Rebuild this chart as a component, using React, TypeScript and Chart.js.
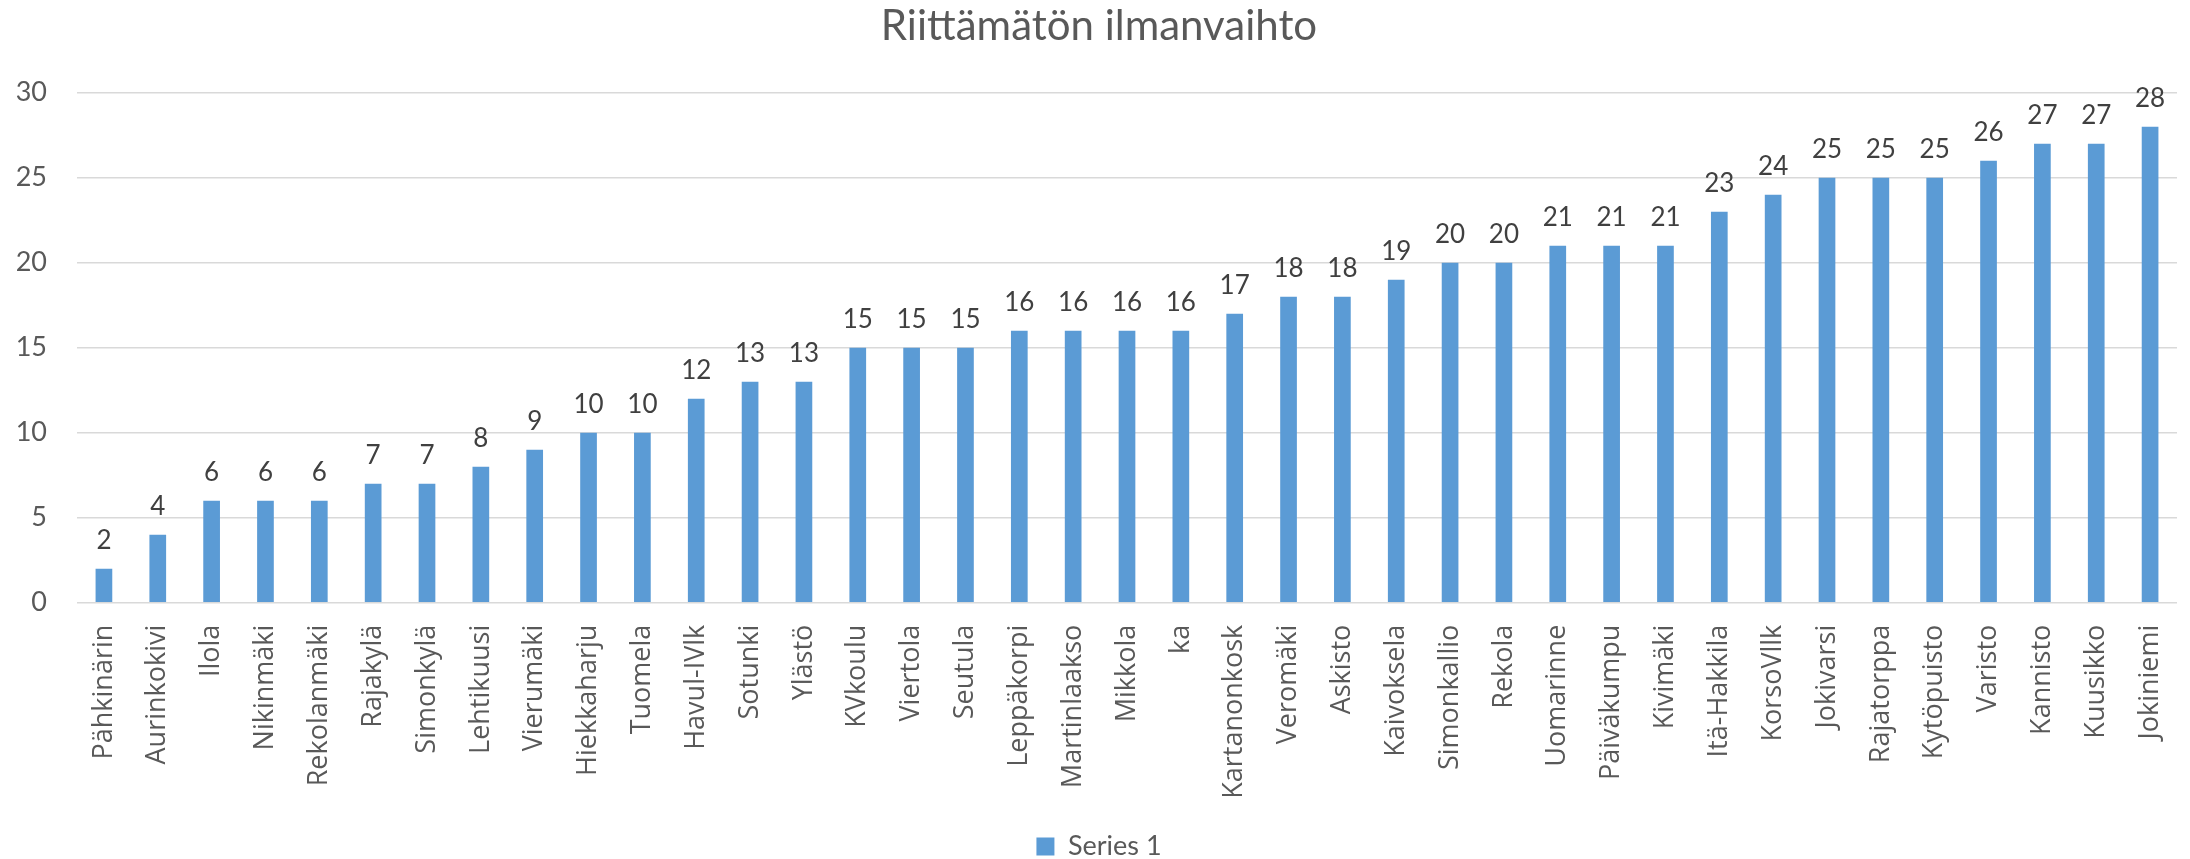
import React, { useEffect, useRef } from "react";
import { Chart, registerables } from "chart.js";

Chart.register(...registerables);

const categories = [
  "Pähkinärin", "Aurinkokivi", "Ilola", "Nikinmäki", "Rekolanmäki", "Rajakylä", "Simonkylä",
  "Lehtikuusi", "Vierumäki", "Hiekkaharju", "Tuomela", "Havul-IVlk", "Sotunki", "Ylästö",
  "KVkoulu", "Viertola", "Seutula", "Leppäkorpi", "Martinlaakso", "Mikkola", "ka",
  "Kartanonkosk", "Veromäki", "Askisto", "Kaivoksela", "Simonkallio", "Rekola", "Uomarinne",
  "Päiväkumpu", "Kivimäki", "Itä-Hakkila", "KorsoVllk", "Jokivarsi", "Rajatorppa", "Kytöpuisto",
  "Varisto", "Kannisto", "Kuusikko", "Jokiniemi",
];

const series1 = [
  2, 4, 6, 6, 6, 7, 7, 8, 9, 10, 10, 12, 13, 13, 15, 15, 15, 16, 16, 16, 16,
  17, 18, 18, 19, 20, 20, 21, 21, 21, 23, 24, 25, 25, 25, 26, 27, 27, 28,
];

const seriesName = "Series 1";
const chartTitle = "Riittämätön ilmanvaihto";
const yMin = 0;
const yMax = 30;
const yStep = 5;

const CANVAS_W = 2190;
const CANVAS_H = 859;
const PLOT_BOTTOM = 602.7;
const BOTTOM_PAD = -11;

const dataLabelPlugin = {
  id: "barValueLabels",
  afterDatasetsDraw(chart: any) {
    const ctx = chart.ctx;
    ctx.save();
    ctx.font = "26px Lato";
    ctx.fillStyle = "#404040";
    ctx.textAlign = "center";
    ctx.textBaseline = "alphabetic";
    chart.data.datasets.forEach((ds: any, i: number) => {
      const meta = chart.getDatasetMeta(i);
      meta.data.forEach((el: any, j: number) => {
        ctx.fillText(String(ds.data[j]), el.x, el.y - 20);
      });
    });
    ctx.restore();
  },
};

export default function App() {
  const ref = useRef<HTMLCanvasElement | null>(null);

  useEffect(() => {
    let chart: any = null;
    let cancelled = false;
    const build = () => {
      if (cancelled || !ref.current) return;
      chart = new Chart(ref.current, {
        type: "bar",
        data: {
          labels: categories,
          datasets: [
            {
              label: seriesName,
              data: series1,
              backgroundColor: "#5B9BD5",
              borderWidth: 0,
              categoryPercentage: 1,
              barPercentage: 0.31,
            },
          ],
        },
        options: {
          responsive: false,
          animation: false,
          layout: { padding: { left: 8, right: 0, top: 0, bottom: BOTTOM_PAD } },
          plugins: {
            title: {
              display: true,
              text: chartTitle,
              color: "#595959",
              font: { family: "Lato", size: 42, weight: "normal", lineHeight: 1.2 },
              padding: { top: 1.5, bottom: 40.8 },
            },
            legend: {
              display: true,
              position: "bottom",
              labels: {
                color: "#595959",
                font: { family: "Lato", size: 27, lineHeight: 1 },
                boxWidth: 18,
                boxHeight: 18,
                padding: 1,
              },
            },
            tooltip: { enabled: false },
          },
          scales: {
            x: {
              grid: { display: false, drawTicks: false },
              border: { display: false },
              ticks: {
                color: "#595959",
                font: { family: "Open Sans", size: 27 },
                maxRotation: 90,
                minRotation: 90,
                autoSkip: false,
                padding: 22,
              },
              afterFit: (scale: any) => {
                const lg = scale.chart.legend;
                const lh = lg && lg.height ? lg.height : 40;
                scale.height = CANVAS_H - BOTTOM_PAD - PLOT_BOTTOM - lh;
                scale.paddingLeft = 0;
                scale.paddingRight = 0;
              },
            },
            y: {
              min: yMin,
              max: yMax,
              grid: { color: "#d9d9d9", lineWidth: 1.5, drawTicks: false },
              border: { display: false },
              ticks: {
                stepSize: yStep,
                color: "#595959",
                font: { family: "Lato", size: 27 },
                padding: 30,
              },
              afterFit: (scale: any) => {
                scale.width = 69;
              },
            },
            yRight: {
              position: "right",
              display: true,
              grid: { display: false, drawTicks: false },
              border: { display: false },
              ticks: { display: false },
              afterFit: (scale: any) => {
                scale.width = 13;
                scale.paddingTop = 0;
                scale.paddingBottom = 0;
              },
            },
          },
        },
        plugins: [dataLabelPlugin],
      });
    };
    const fonts: any = (document as any).fonts;
    if (fonts && fonts.load) {
      Promise.all([
        fonts.load("27px 'Open Sans'"),
        fonts.load("27px Lato"),
        fonts.load("42px Lato"),
      ]).then(build, build);
    } else {
      build();
    }
    return () => {
      cancelled = true;
      if (chart) chart.destroy();
    };
  }, []);

  return (
    <div style={{ position: "absolute", left: 0, top: 0, width: CANVAS_W, height: CANVAS_H }}>
      <canvas ref={ref} width={CANVAS_W} height={CANVAS_H} style={{ display: "block" }} />
    </div>
  );
}
